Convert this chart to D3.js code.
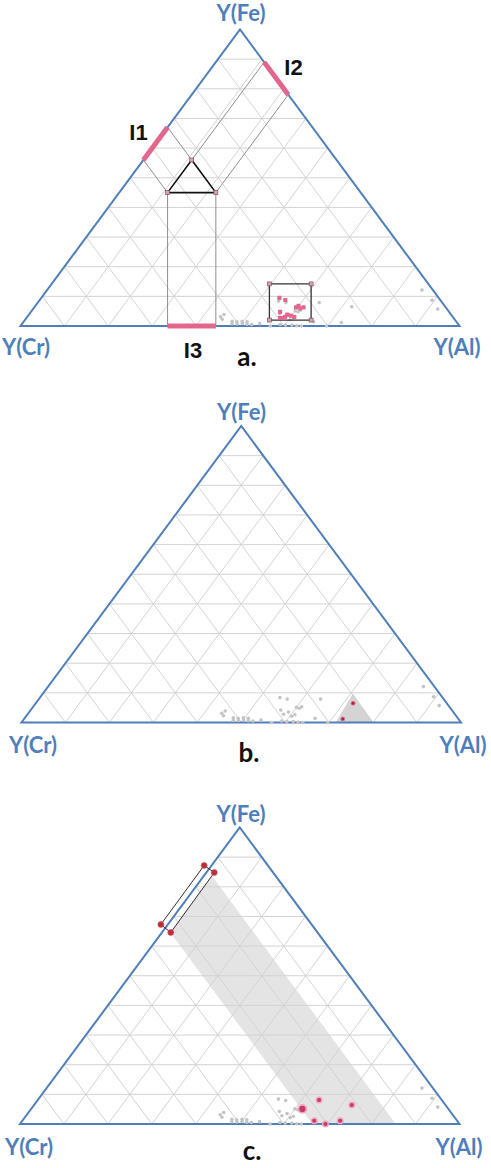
<!DOCTYPE html>
<html><head><meta charset="utf-8">
<script src="https://cdn.jsdelivr.net/npm/d3@7"></script>
<style>html,body{margin:0;padding:0;background:#fff;}svg{display:block;}</style>
</head><body>
<svg id="chart" width="491" height="1168"></svg>
<script>
// ---- data (ternary coordinates given as [Y(Al), Y(Fe)], Y(Cr) = 1 - Al - Fe) ----
const gridTicks = [0.1,0.2,0.3,0.4,0.5,0.6,0.7,0.8,0.9];
const vertexLabels = ["Y(Fe)", "Y(Cr)", "Y(Al)"];
const panelLetters = ["a.", "b.", "c."];
const grayPts = [
  [0.440,0.031],[0.444,0.039],[0.448,0.023],[0.474,0.016],[0.486,0.014],[0.497,0.016],
  [0.509,0.014],[0.478,0.008],[0.490,0.007],[0.501,0.009],[0.513,0.006],[0.524,0.005],
  [0.541,0.008],[0.569,0.000],[0.546,0.084],[0.565,0.079],[0.569,0.042],[0.582,0.028],
  [0.590,0.035],[0.604,0.021],[0.609,0.026],[0.608,0.048],[0.611,0.053],[0.600,0.051],
  [0.589,0.005],[0.602,0.003],[0.617,0.003],[0.629,0.001],[0.640,0.000],[0.641,0.079],
  [0.661,0.014],[0.697,0.000],[0.722,0.065],[0.725,0.012],
  [0.854,0.121],[0.894,0.087],[0.922,0.057]
];
// panel a: points inside the selection box
const pinkA = [
  [0.542,0.095],[0.559,0.088],[0.596,0.063],[0.607,0.060],[0.613,0.063],[0.599,0.068],
  [0.567,0.048],[0.577,0.028],[0.587,0.031],[0.588,0.039],[0.598,0.035],[0.608,0.031],[0.585,0.027]
];
const boxA = [[0.496,0.142],[0.591,0.142],[0.652,0.020],[0.557,0.020]];
const triA = [[0.11,0.56],[0.11,0.45],[0.22,0.45]];          // top, bottom-left, bottom-right
const intervalI1 = [[0.0,0.56],[0.0,0.67]];
const intervalI2 = [[0.11,0.89],[0.22,0.78]];
const intervalI3 = [[0.335,0.0],[0.445,0.0]];
const intervalNames = ["I1","I2","I3"];
// panel b
const shadeB = [[0.715,0.0],[0.800,0.0],[0.705,0.098]];
const redB = [[0.722,0.065],[0.725,0.012]];
// panel c
const bandC = [[0.018,0.837],[0.855,0.0],[0.665,0.0],[0.018,0.647]];
const rectC = [[-0.017,0.872],[0.018,0.848],[0.020,0.646],[-0.016,0.673]];
const redC = [[0.640,0.081],[0.723,0.064],[0.664,0.011],[0.723,0.011],[0.695,0.0]];
const redCBig = [[0.617,0.051]];

// ---- layout ----
const panels = [
  {x0:20.5, x1:459.5, yTop:29.5, yBase:326, fe:[241,21], cr:[26,355], al:[457,355], letter:[247,366]},
  {x0:21.5, x1:461, yTop:426, yBase:722.5, fe:[241.5,420], cr:[33,753], al:[463,753], letter:[249,762]},
  {x0:20, x1:459.5, yTop:827.5, yBase:1124, fe:[241,822], cr:[29,1155], al:[459,1155], letter:[252,1160]}
];
const BLUE = "#4f7fba", GRID = "#d3d3d3", PINK = "#e3668c";
const svg = d3.select("#chart");

panels.forEach((p, i) => {
  const g = svg.append("g");
  const x = d3.scaleLinear().domain([0,1]).range([p.x0, p.x1]);
  const y = d3.scaleLinear().domain([0,1]).range([p.yBase, p.yTop]);
  const P = d => [x(d[0] + d[1]/2), y(d[1])];
  const line = d3.line().x(d => P(d)[0]).y(d => P(d)[1]);

  // shaded regions (under grid)
  if (i === 1) g.append("path").attr("d", line(shadeB) + "Z").attr("fill", "#d4d4d4");
  if (i === 2) g.append("path").attr("d", line(bandC) + "Z").attr("fill", "#e4e4e4");

  // grid
  const gl = [];
  gridTicks.forEach(t => {
    gl.push([[0,t],[1-t,t]]);       // Fe constant
    gl.push([[t,0],[t,1-t]]);       // Al constant
    gl.push([[1-t,0],[0,1-t]]);     // Cr constant
  });
  g.selectAll(".grid").data(gl).enter().append("path")
    .attr("d", d => line(d)).attr("stroke", GRID).attr("stroke-width", 1).attr("fill", "none");

  // outline
  g.append("path").attr("d", line([[0,0],[1,0],[0,1]]) + "Z")
    .attr("fill","none").attr("stroke", BLUE).attr("stroke-width", 2);

  // gray data points
  g.selectAll(".pt").data(grayPts).enter().append("circle")
    .attr("cx", d => P(d)[0]).attr("cy", d => P(d)[1]).attr("r", 1.8).attr("fill", "#c4c4c4");

  if (i === 0) {
    // construction lines
    const cons = [[triA[1], intervalI1[0]], [triA[0], intervalI1[1]],
                  [triA[0], intervalI2[0]], [triA[2], intervalI2[1]],
                  [triA[1], intervalI3[0]], [triA[2], intervalI3[1]]];
    g.selectAll(".cons").data(cons).enter().append("path")
      .attr("d", d => line(d)).attr("stroke", "#8f8f8f").attr("stroke-width", 1).attr("fill","none");
    [intervalI1, intervalI2, intervalI3].forEach(seg => {
      g.append("path").attr("d", line(seg)).attr("stroke", PINK).attr("stroke-width", 5).attr("fill","none");
    });
    g.append("path").attr("d", line(triA) + "Z").attr("fill","none").attr("stroke","#111").attr("stroke-width",1.6);
    g.append("path").attr("d", line(boxA) + "Z").attr("fill","none").attr("stroke","#333").attr("stroke-width",1.3);
    g.selectAll(".mk").data(triA.concat(boxA)).enter().append("rect")
      .attr("x", d => P(d)[0]-2).attr("y", d => P(d)[1]-2).attr("width",4).attr("height",4)
      .attr("fill","#d9a0ad").attr("stroke","#6b4a52").attr("stroke-width",0.6);
    g.selectAll(".pk").data(pinkA).enter().append("rect")
      .attr("x", d => P(d)[0]-2).attr("y", d => P(d)[1]-2).attr("width",4.2).attr("height",4.2)
      .attr("rx",0.8).attr("fill", PINK);
    const ipos = [[138.5,140],[293.5,75],[193,358]];
    g.selectAll(".iname").data(intervalNames).enter().append("text")
      .attr("x",(d,k)=>ipos[k][0]).attr("y",(d,k)=>ipos[k][1]).attr("text-anchor","middle")
      .attr("font-family","Liberation Sans, Arial, sans-serif").attr("font-weight","bold")
      .attr("font-size",22).attr("fill","#111").text(d=>d);
  }
  if (i === 1) {
    g.selectAll(".rb").data(redB).enter().append("circle")
      .attr("cx", d => P(d)[0]).attr("cy", d => P(d)[1]).attr("r", 2)
      .attr("fill", "#b02848").attr("stroke","#e07898").attr("stroke-width",0.8);
  }
  if (i === 2) {
    g.append("path").attr("d", line(rectC) + "Z").attr("fill","none").attr("stroke","#3a2a2a").attr("stroke-width",1);
    g.selectAll(".rc").data(rectC).enter().append("circle")
      .attr("cx", d => P(d)[0]).attr("cy", d => P(d)[1]).attr("r", 3)
      .attr("fill", "#b8303c").attr("stroke","#d05060").attr("stroke-width",0.6);
    g.selectAll(".rd").data(redC).enter().append("circle")
      .attr("cx", d => P(d)[0]).attr("cy", d => P(d)[1]).attr("r", 2.8)
      .attr("fill", "#c83a68").attr("stroke","#f0a8c0").attr("stroke-width",1.4);
    g.selectAll(".rdb").data(redCBig).enter().append("circle")
      .attr("cx", d => P(d)[0]).attr("cy", d => P(d)[1]).attr("r", 4)
      .attr("fill", "#c83a68").attr("stroke","#f0a8c0").attr("stroke-width",1.8);
  }

  // vertex labels
  const lp = [p.fe, p.cr, p.al];
  g.selectAll(".vl").data(vertexLabels).enter().append("text")
    .attr("x",(d,k)=>lp[k][0]).attr("y",(d,k)=>lp[k][1]).attr("text-anchor","middle")
    .attr("font-family","Lato, 'Open Sans', sans-serif").attr("font-weight","bold")
    .attr("font-size",22).attr("fill", BLUE).text(d=>d);
  g.append("text").attr("x",p.letter[0]).attr("y",p.letter[1]).attr("text-anchor","middle")
    .attr("font-family","Lato, 'Open Sans', sans-serif").attr("font-weight","bold")
    .attr("font-size",26).attr("fill","#111").text(panelLetters[i]);
});
</script>
</body></html>
